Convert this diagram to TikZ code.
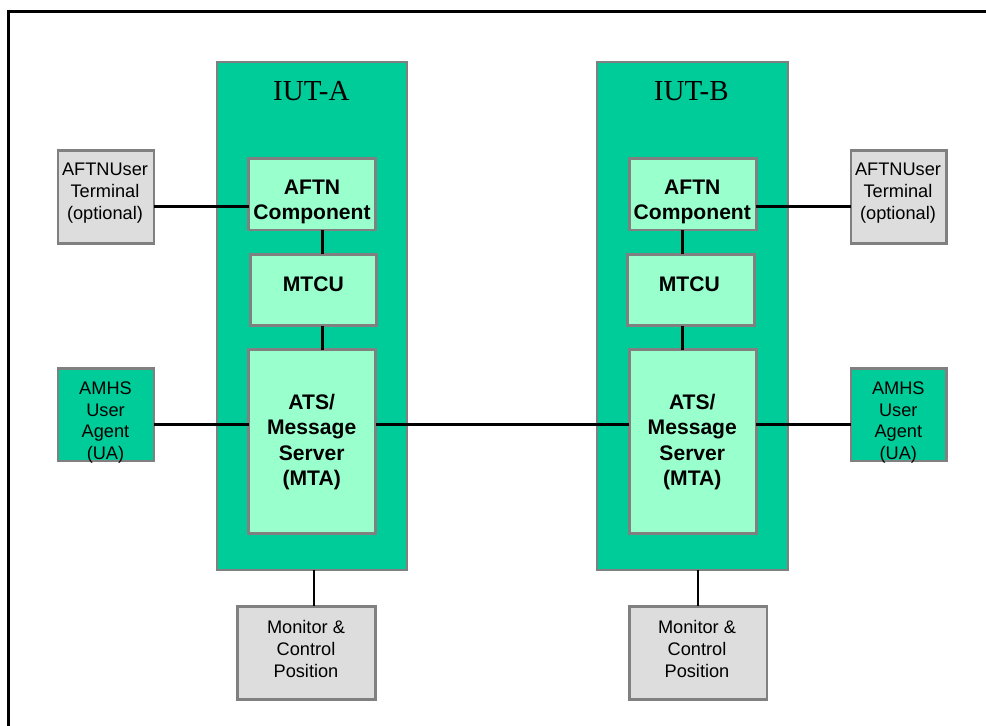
\documentclass[tikz,border=0pt]{standalone}
\usepackage{fontspec}
\setmainfont{Liberation Sans}
\newfontfamily\serifface{Liberation Serif}
\definecolor{outergreen}{HTML}{00CC99}
\definecolor{innergreen}{HTML}{99FFCC}
\definecolor{boxgray}{HTML}{DDDDDD}
\definecolor{edgegray}{HTML}{808080}
\tikzset{
  boxbase/.style={draw=edgegray,line width=2.5pt,rectangle,outer sep=0pt,inner sep=0pt},
  iutbox/.style={boxbase,fill=outergreen},
  innerbox/.style={boxbase,fill=innergreen},
  grayterm/.style={boxbase,fill=boxgray},
  greenterm/.style={boxbase,fill=outergreen},
  plaintext/.style={align=center,inner sep=0pt,text=black,font=\fontsize{18.2}{21.6}\selectfont},
  boldtext/.style={align=center,inner sep=0pt,text=black,font=\fontsize{21.1}{25.1}\selectfont\bfseries},
  iuttext/.style={inner sep=0pt,text=black,font=\serifface\fontsize{29}{30}\selectfont},
  thinlink/.style={draw=black,line width=2.6pt},
  thicklink/.style={draw=black,line width=3.6pt},
  framerule/.style={draw=black,line width=2.7pt}
}
\newcommand{\boxat}[6]{\node[#6,minimum width={#4-#2},minimum height={#5-#3}] (#1) at ({(#2+#4)/2},{(#3+#5)/2}) {};}
\begin{document}
\begin{tikzpicture}[x=1pt,y=-1pt]
\useasboundingbox (0,0) rectangle (986,726);
\coordinate (frameBL) at (8.5,726);
\coordinate (frameTL) at (8.5,11.5);
\coordinate (frameTR) at (986,11.5);
\draw[framerule] (frameBL) -- (frameTL) -- (frameTR);

\boxat{iutA}{217}{62}{407}{570}{iutbox}
\boxat{iutB}{597}{62}{788}{570}{iutbox}
\boxat{aftnA}{248.7}{158.3}{375.7}{230}{innerbox}
\boxat{mtcuA}{250.3}{254.3}{376.7}{325.7}{innerbox}
\boxat{atsA}{248.7}{349.7}{375.7}{533.3}{innerbox}
\boxat{aftnB}{629.3}{158.3}{756.3}{230}{innerbox}
\boxat{mtcuB}{627.7}{254.3}{754.3}{325.7}{innerbox}
\boxat{atsB}{629.3}{349.7}{756.3}{533.3}{innerbox}
\boxat{termA}{58}{150.3}{154}{243.7}{grayterm}
\boxat{termB}{851}{150.3}{946.7}{243.7}{grayterm}
\boxat{uaA}{58}{368.3}{154}{461}{greenterm}
\boxat{uaB}{851}{368.3}{946.7}{461}{greenterm}
\boxat{monA}{237.7}{606.3}{375.7}{699.3}{grayterm}
\boxat{monB}{629.3}{606.3}{767}{699.3}{grayterm}

\node[iuttext] (iutAt) at (311.3,91) {IUT-A};
\node[iuttext] (iutBt) at (691.3,91) {IUT-B};
\node[boldtext] (aftnAt) at (312,202.3) {AFTN\\Component};
\node[boldtext] (aftnBt) at (692.3,202) {AFTN\\Component};
\node[boldtext] (mtcuAt) at (313.3,284.3) {MTCU};
\node[boldtext] (mtcuBt) at (689.3,284.3) {MTCU};
\node[boldtext] (atsAt) at (311.7,442) {ATS/\\Message\\Server\\(MTA)};
\node[boldtext] (atsBt) at (692.3,442) {ATS/\\Message\\Server\\(MTA)};
\node[plaintext] (termAt) at (105,193.2) {AFTNUser\\Terminal\\(optional)};
\node[plaintext] (termBt) at (898,193.2) {AFTNUser\\Terminal\\(optional)};
\node[plaintext] (uaAt) at (105.5,422.5) {AMHS\\User\\Agent\\(UA)};
\node[plaintext] (uaBt) at (898.3,422.5) {AMHS\\User\\Agent\\(UA)};
\node[plaintext] (monAt) at (306,649) {Monitor \&\\Control\\Position};
\node[plaintext] (monBt) at (697,649) {Monitor \&\\Control\\Position};

\draw[thinlink] ([yshift=-9.7pt]termA.east) -- ([yshift=-9.7pt]termA.east -| aftnA.west);
\draw[thinlink] ([yshift=-9.7pt]termB.west -| aftnB.east) -- ([yshift=-9.7pt]termB.west);
\draw[thinlink] ([xshift=10.1pt]aftnA.south) -- ([xshift=10.1pt]aftnA.south |- mtcuA.north);
\draw[thinlink] ([xshift=10.1pt]atsA.north |- mtcuA.south) -- ([xshift=10.1pt]atsA.north);
\draw[thinlink] ([xshift=-10.5pt]aftnB.south) -- ([xshift=-10.5pt]aftnB.south |- mtcuB.north);
\draw[thinlink] ([xshift=-10.5pt]atsB.north |- mtcuB.south) -- ([xshift=-10.5pt]atsB.north);
\draw[thicklink] ([yshift=17.2pt]atsA.west -| uaA.east) -- ([yshift=17.2pt]atsA.west);
\draw[thicklink] ([yshift=17.2pt]atsA.east) -- ([yshift=17.2pt]atsB.west);
\draw[thicklink] ([yshift=17.2pt]atsB.east) -- ([yshift=17.2pt]atsB.east -| uaB.west);
\draw[thinlink] ([xshift=2pt]iutA.south) -- ([xshift=2pt]iutA.south |- monA.north);
\draw[thinlink] ([xshift=5.65pt]iutB.south) -- ([xshift=5.65pt]iutB.south |- monB.north);
\end{tikzpicture}
\end{document}
